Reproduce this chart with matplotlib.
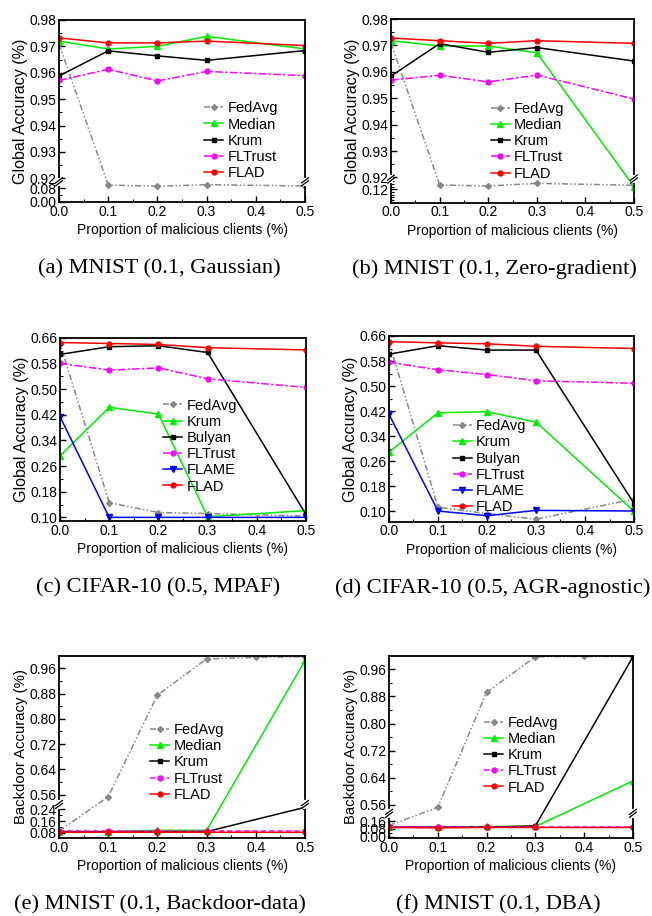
import numpy as np
import matplotlib
matplotlib.use("Agg")
import matplotlib.pyplot as plt

plt.rcParams["font.family"] = ["Liberation Sans", "DejaVu Sans"]
plt.rcParams["font.size"] = 10

# --- data ---
x = [0.0, 0.1, 0.2, 0.3, 0.5]
x6 = [0.0, 0.1, 0.2, 0.3, 0.4, 0.5]
xticks = [0.0, 0.1, 0.2, 0.3, 0.4, 0.5]

# (a) MNIST (0.1, Gaussian)
a_fedavg = [0.971, 0.0994, 0.092, 0.101, 0.0936]
a_median = [0.9720, 0.9690, 0.9700, 0.9738, 0.9690]
a_krum = [0.9588, 0.9683, 0.9664, 0.9647, 0.9684]
a_fltrust = [0.9571, 0.9613, 0.9569, 0.9605, 0.9589]
a_flad = [0.9732, 0.9713, 0.9713, 0.9720, 0.9703]

# (b) MNIST (0.1, Zero-gradient)
b_fedavg = [0.971, 0.1264, 0.1249, 0.1289, 0.1260]
b_median = [0.9718, 0.9698, 0.9698, 0.9672, 0.1239]
b_krum = [0.9584, 0.9707, 0.9674, 0.9692, 0.9641]
b_fltrust = [0.9569, 0.9587, 0.9562, 0.9588, 0.9497]
b_flad = [0.9728, 0.9718, 0.9708, 0.9718, 0.9708]

# (c) CIFAR-10 (0.5, MPAF)
c_fedavg = [0.642, 0.146, 0.115, 0.112, 0.104]
c_krum = [0.292, 0.443, 0.422, 0.102, 0.121]
c_bulyan = [0.608, 0.632, 0.635, 0.614, 0.109]
c_fltrust = [0.580, 0.559, 0.566, 0.532, 0.505]
c_flame = [0.414, 0.100, 0.100, 0.100, 0.100]
c_flad = [0.645, 0.642, 0.639, 0.629, 0.622]

# (d) CIFAR-10 (0.5, AGR-agnostic)
d_fedavg = [0.642, 0.113, 0.093, 0.075, 0.139]
d_krum = [0.289, 0.415, 0.418, 0.385, 0.100]
d_bulyan = [0.602, 0.629, 0.615, 0.615, 0.125]
d_fltrust = [0.576, 0.552, 0.537, 0.517, 0.509]
d_flame = [0.410, 0.101, 0.086, 0.103, 0.101]
d_flad = [0.642, 0.638, 0.635, 0.627, 0.620]

# (e) MNIST (0.1, Backdoor-data)
e_fedavg = [0.091, 0.553, 0.875, 0.990, 0.995, 0.997]
e_median = [0.087, 0.087, 0.096, 0.096, 0.985]
e_krum = [0.087, 0.087, 0.087, 0.087, 0.254]
e_fltrust = [0.088, 0.088, 0.088, 0.088, 0.088]
e_flad = [0.082, 0.083, 0.083, 0.083, 0.082]

# (f) MNIST (0.1, DBA)
f_fedavg = [0.114, 0.553, 0.892, 0.997, 0.998, 0.998]
f_median = [0.097, 0.097, 0.104, 0.104, 0.631]
f_krum = [0.097, 0.097, 0.097, 0.110, 0.997]
f_fltrust = [0.098, 0.098, 0.098, 0.098, 0.098]
f_flad = [0.094, 0.090, 0.094, 0.094, 0.094]

STYLE = {
    "gray": dict(color="#888888", ls=(0, (4, 1.5, 1, 1.5, 1, 1.5)), marker="D", ms=3),
    "green": dict(color="#00ee00", ls="-", marker="^", ms=4),
    "black": dict(color="black", ls="-", marker="s", ms=3),
    "magenta": dict(color="#ff00ff", ls=(0, (5, 1.5, 1.5, 1.5)), marker="o", ms=3.5),
    "magenta_d": dict(color="#ff00ff", ls=(0, (3.5, 2)), marker="o", ms=3.5),
    "blue": dict(color="#0000ff", ls="-", marker="v", ms=4),
    "red": dict(color="#ff0000", ls="-", marker="o", ms=3.5),
}


def broken_funcs(vals, fracs):
    """Piecewise-linear y mapping (Origin style axis break)."""
    vals = np.asarray(vals, float)
    fracs = np.asarray(fracs, float)
    s0 = (fracs[1] - fracs[0]) / (vals[1] - vals[0])
    s1 = (fracs[-1] - fracs[-2]) / (vals[-1] - vals[-2])

    def fwd(v):
        v = np.asarray(v, float)
        out = np.interp(v, vals, fracs)
        out = np.where(v < vals[0], fracs[0] + (v - vals[0]) * s0, out)
        return np.where(v > vals[-1], fracs[-1] + (v - vals[-1]) * s1, out)

    def inv(f):
        f = np.asarray(f, float)
        out = np.interp(f, fracs, vals)
        out = np.where(f < fracs[0], vals[0] + (f - fracs[0]) / s0, out)
        return np.where(f > fracs[-1], vals[-1] + (f - fracs[-1]) / s1, out)

    return fwd, inv


def draw_break(ax, fb):
    for xs in (0, 1):
        ax.plot([xs, xs], [fb - 0.012, fb + 0.012], color="white", lw=3,
                transform=ax.transAxes, clip_on=False, zorder=4)
        for dy in (-0.008, 0.008):
            ax.plot([xs - 0.014, xs + 0.014], [fb + dy - 0.014, fb + dy + 0.014],
                    color="black", lw=0.9, transform=ax.transAxes,
                    clip_on=False, zorder=5)


def panel(rect, series, ylabel, ylsize, yticks, yminor, ylim, caption, cap_x,
          leg_xy, breaks=None):
    ax = fig.add_axes(rect)
    if breaks is not None:
        vals, fracs = breaks
        fwd, inv = broken_funcs(vals, fracs)
        ax.set_yscale("function", functions=(fwd, inv))
    for label, role, xs, ys in series:
        st = STYLE[role]
        ax.plot(xs, ys, color=st["color"], ls=st["ls"], lw=1.1,
                marker=st["marker"], ms=st["ms"], mec=st["color"],
                mfc=st["color"], label=label)
    ax.set_xlim(0, 0.5)
    ax.set_ylim(*ylim)
    ax.set_xticks(xticks)
    ax.set_xticks(np.arange(0.05, 0.5, 0.1), minor=True)
    ax.set_xticklabels([f"{v:.1f}" for v in xticks])
    ax.set_yticks(yticks)
    ax.set_yticklabels([f"{v:.2f}" for v in yticks])
    ax.set_yticks(yminor, minor=True)
    ax.tick_params(which="both", direction="in", labelsize=10, pad=2)
    ax.tick_params(which="major", length=4, width=1)
    ax.tick_params(which="minor", length=2, width=0.8)
    for sp in ax.spines.values():
        sp.set_linewidth(1.3)
    ax.set_xlabel("Proportion of malicious clients (%)", fontsize=10, labelpad=3)
    ax.set_ylabel(ylabel, fontsize=ylsize, labelpad=1)
    if breaks is not None:
        fracs = breaks[1]
        draw_break(ax, (fracs[1] + fracs[2]) / 2)
    ax.legend(loc="lower left", bbox_to_anchor=leg_xy, frameon=False,
              borderpad=0, borderaxespad=0, handlelength=1.3,
              handletextpad=0.3, labelspacing=0.15, fontsize=10.5)
    top = rect[1]
    fig.text(cap_x, top - 0.073, caption, ha="center", va="center",
             family=["Liberation Serif", "DejaVu Serif"], fontsize=16.2)
    return ax


fig = plt.figure(figsize=(6.52, 9.16), dpi=100)

ga = "Global Accuracy (%)"
bd = "Backdoor Accuracy (%)"

# (a)
panel([0.0905, 0.7795, 0.3773, 0.1987],
      [("FedAvg", "gray", x, a_fedavg), ("Median", "green", x, a_median),
       ("Krum", "black", x, a_krum), ("FLTrust", "magenta", x, a_fltrust),
       ("FLAD", "red", x, a_flad)],
      ga, 11.5, [0.0, 0.08, 0.92, 0.93, 0.94, 0.95, 0.96, 0.97, 0.98],
      [0.04, 0.925, 0.935, 0.945, 0.955, 0.965, 0.975], (0.0, 0.98),
      "(a) MNIST (0.1, Gaussian)", 0.244, (0.59, 0.12),
      breaks=([0.0, 0.11, 0.9192, 0.98], [0.0, 0.1034, 0.1184, 1.0]))

# (b)
panel([0.5997, 0.7787, 0.3727, 0.2005],
      [("FedAvg", "gray", x, b_fedavg), ("Median", "green", x, b_median),
       ("Krum", "black", x, b_krum), ("FLTrust", "magenta", x, b_fltrust),
       ("FLAD", "red", x, b_flad)],
      ga, 11.5, [0.12, 0.92, 0.93, 0.94, 0.95, 0.96, 0.97, 0.98],
      list(np.arange(0.10, 0.133, 0.004)) + [0.925, 0.935, 0.945, 0.955, 0.965, 0.975],
      (0.10, 0.98),
      "(b) MNIST (0.1, Zero-gradient)", 0.759, (0.41, 0.12),
      breaks=([0.10, 0.1334, 0.9199, 0.98], [0.0, 0.122, 0.136, 1.0]))

# (c)
c_ticks = [0.10, 0.18, 0.26, 0.34, 0.42, 0.50, 0.58, 0.66]
panel([0.092, 0.4312, 0.3773, 0.2001],
      [("FedAvg", "gray", x, c_fedavg), ("Krum", "green", x, c_krum),
       ("Bulyan", "black", x, c_bulyan), ("FLTrust", "magenta", x, c_fltrust),
       ("FLAME", "blue", x, c_flame), ("FLAD", "red", x, c_flad)],
      ga, 11.5, c_ticks, [v + 0.04 for v in c_ticks[:-1]], (0.0886, 0.66),
      "(c) CIFAR-10 (0.5, MPAF)", 0.242, (0.42, 0.15))

# (d)
panel([0.5966, 0.4305, 0.3758, 0.2027],
      [("FedAvg", "gray", x, d_fedavg), ("Krum", "green", x, d_krum),
       ("Bulyan", "black", x, d_bulyan), ("FLTrust", "magenta", x, d_fltrust),
       ("FLAME", "blue", x, d_flame), ("FLAD", "red", x, d_flad)],
      ga, 11.5, c_ticks, [v + 0.04 for v in c_ticks[:-1]], (0.067, 0.66),
      "(d) CIFAR-10 (0.5, AGR-agnostic)", 0.756, (0.26, 0.04))

# (e)
panel([0.0905, 0.0848, 0.3773, 0.1993],
      [("FedAvg", "gray", x6, e_fedavg), ("Median", "green", x, e_median),
       ("Krum", "black", x, e_krum), ("FLTrust", "magenta_d", x, e_fltrust),
       ("FLAD", "red", x, e_flad)],
      bd, 10.7, [0.08, 0.16, 0.24, 0.56, 0.64, 0.72, 0.80, 0.88, 0.96],
      [0.12, 0.20, 0.60, 0.68, 0.76, 0.84, 0.92], (0.041, 1.0),
      "(e) MNIST (0.1, Backdoor-data)", 0.245, (0.37, 0.2),
      breaks=([0.041, 0.27, 0.53, 1.0], [0.0, 0.1825, 0.188, 1.0]))

# (f)
panel([0.5966, 0.0848, 0.3742, 0.1993],
      [("FedAvg", "gray", x6, f_fedavg), ("Median", "green", x, f_median),
       ("Krum", "black", x, f_krum), ("FLTrust", "magenta_d", x, f_fltrust),
       ("FLAD", "red", x, f_flad)],
      bd, 10.7, [0.0, 0.08, 0.16, 0.56, 0.64, 0.72, 0.80, 0.88, 0.96],
      [0.04, 0.12, 0.60, 0.68, 0.76, 0.84, 0.92], (-0.017, 1.0),
      "(f) MNIST (0.1, DBA)", 0.764, (0.39, 0.24),
      breaks=([-0.017, 0.233, 0.537, 1.0], [0.0, 0.134, 0.14, 1.0]))

fig.savefig("out.png", dpi=100)
